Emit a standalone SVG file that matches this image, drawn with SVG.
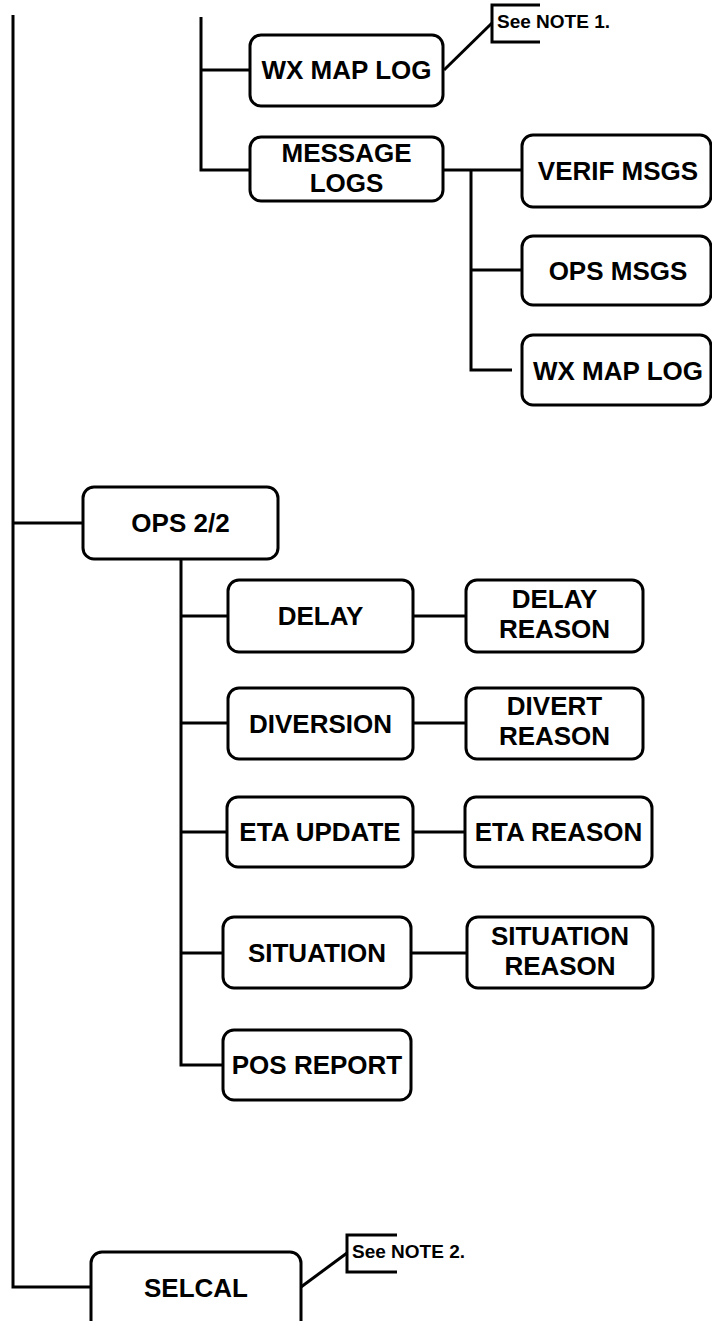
<svg xmlns="http://www.w3.org/2000/svg" width="712" height="1321" viewBox="0 0 712 1321">
<style>
.box{fill:#fff;stroke:#000;stroke-width:3}
.ln{fill:none;stroke:#000;stroke-width:3}
.t{font-family:"Liberation Sans",Arial,sans-serif;font-weight:bold;font-size:26px;text-anchor:middle;fill:#000}
.n{font-family:"Liberation Sans",Arial,sans-serif;font-weight:bold;font-size:19px;fill:#000}
</style>
<rect width="712" height="1321" fill="#fff"/>
<g id="connectors">
<path class="ln" d="M13,15 V1287 H91"/>
<path class="ln" d="M13,523 H83"/>
<path class="ln" d="M201,17 V170 H250"/>
<path class="ln" d="M201,70 H250"/>
<path class="ln" d="M443,170 H522"/>
<path class="ln" d="M471,170 V370 H512"/>
<path class="ln" d="M471,270 H522"/>
<path class="ln" d="M181,559 V1065 H223"/>
<path class="ln" d="M181,616 H228"/>
<path class="ln" d="M181,723 H228"/>
<path class="ln" d="M181,832 H227"/>
<path class="ln" d="M181,953 H223"/>
<path class="ln" d="M413,616 H466"/>
<path class="ln" d="M413,723 H466"/>
<path class="ln" d="M413,832 H465"/>
<path class="ln" d="M411,953 H467"/>
<path class="ln" d="M444,70 L492,23"/>
<path class="ln" d="M301,1287 L347,1253"/>
</g>
<g id="note1">
<path class="ln" d="M540,5 H492 V42 H540"/>
<text class="n" x="497" y="28">See NOTE 1.</text>
</g>
<g id="note2">
<path class="ln" d="M397,1235 H347 V1272 H397"/>
<text class="n" x="352" y="1258">See NOTE 2.</text>
</g>
<g id="wxmaplog1">
<rect class="box" x="250" y="35" width="193" height="71" rx="11"/>
<text class="t" x="346.5" y="79">WX MAP LOG</text>
</g>
<g id="messagelogs">
<rect class="box" x="250" y="137" width="193" height="64" rx="11"/>
<text class="t" x="346.5" y="162">MESSAGE</text>
<text class="t" x="346.5" y="192">LOGS</text>
</g>
<g id="verifmsgs">
<rect class="box" x="522" y="135" width="189" height="72" rx="11"/>
<text class="t" x="618" y="180">VERIF MSGS</text>
</g>
<g id="opsmsgs">
<rect class="box" x="522" y="236" width="189" height="69" rx="11"/>
<text class="t" x="618" y="280">OPS MSGS</text>
</g>
<g id="wxmaplog2">
<rect class="box" x="522" y="335" width="189" height="70" rx="11"/>
<text class="t" x="618" y="380">WX MAP LOG</text>
</g>
<g id="ops22">
<rect class="box" x="83" y="487" width="195" height="72" rx="11"/>
<text class="t" x="180.5" y="532">OPS 2/2</text>
</g>
<g id="delay">
<rect class="box" x="228" y="580" width="185" height="72" rx="11"/>
<text class="t" x="320.5" y="625">DELAY</text>
</g>
<g id="delayreason">
<rect class="box" x="466" y="580" width="177" height="72" rx="11"/>
<text class="t" x="554.5" y="608">DELAY</text>
<text class="t" x="554.5" y="638">REASON</text>
</g>
<g id="diversion">
<rect class="box" x="228" y="688" width="185" height="71" rx="11"/>
<text class="t" x="320.5" y="733">DIVERSION</text>
</g>
<g id="divertreason">
<rect class="box" x="466" y="688" width="177" height="71" rx="11"/>
<text class="t" x="554.5" y="715">DIVERT</text>
<text class="t" x="554.5" y="745">REASON</text>
</g>
<g id="etaupdate">
<rect class="box" x="227" y="797" width="186" height="70" rx="11"/>
<text class="t" x="320" y="841">ETA UPDATE</text>
</g>
<g id="etareason">
<rect class="box" x="465" y="797" width="187" height="70" rx="11"/>
<text class="t" x="558.5" y="841">ETA REASON</text>
</g>
<g id="situation">
<rect class="box" x="223" y="917" width="188" height="71" rx="11"/>
<text class="t" x="317" y="962">SITUATION</text>
</g>
<g id="situationreason">
<rect class="box" x="467" y="917" width="186" height="71" rx="11"/>
<text class="t" x="560" y="945">SITUATION</text>
<text class="t" x="560" y="975">REASON</text>
</g>
<g id="posreport">
<rect class="box" x="223" y="1030" width="188" height="70" rx="11"/>
<text class="t" x="317" y="1074">POS REPORT</text>
</g>
<g id="selcal">
<rect class="box" x="91" y="1252" width="210" height="85" rx="11"/>
<text class="t" x="196" y="1297">SELCAL</text>
</g>
</svg>
